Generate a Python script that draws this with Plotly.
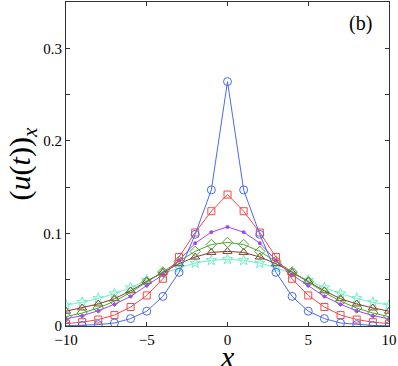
import plotly.graph_objects as go

x_vals = list(range(-10, 11))

# half profiles for x = 0..10 (curves are symmetric about x = 0)
blue_half = [0.264, 0.147, 0.099, 0.058, 0.032, 0.016, 0.008, 0.0032, 0.0015, 0.0006, 0.0003]
red_half = [0.142, 0.124, 0.101, 0.0745, 0.051, 0.033, 0.0205, 0.0118, 0.007, 0.0041, 0.0026]
purple_half = [0.107, 0.1014, 0.0895, 0.071, 0.0554, 0.0436, 0.032, 0.0235, 0.0165, 0.0112, 0.0078]
green_half = [0.0903, 0.088, 0.0806, 0.0698, 0.0583, 0.0477, 0.0362, 0.0268, 0.0194, 0.014, 0.0101]
brown_half = [0.0806, 0.0795, 0.0745, 0.0673, 0.058, 0.0483, 0.038, 0.0295, 0.0238, 0.0195, 0.016]
cyan_half = [0.072, 0.0709, 0.068, 0.063, 0.0565, 0.0495, 0.0414, 0.035, 0.0298, 0.0255, 0.0226]


def mirror(half):
    return half[:0:-1] + half


series = [
    ("blue", mirror(blue_half), "#4a6cf0", "circle-open", 8),
    ("red", mirror(red_half), "#f54848", "square-open", 7),
    ("purple", mirror(purple_half), "#a046f5", "circle", 3),
    ("green", mirror(green_half), "#48a82c", "diamond-open", 8),
    ("brown", mirror(brown_half), "#8c3c30", "triangle-up-open", 8),
    ("cyan", mirror(cyan_half), "#6cf0c8", "star-open", 8),
]

fig = go.Figure()
for name, ys, color, symbol, size in reversed(series):
    fig.add_trace(
        go.Scatter(
            x=x_vals,
            y=ys,
            mode="lines+markers",
            name=name,
            line=dict(color=color, width=1),
            marker=dict(symbol=symbol, size=size, color=color, line=dict(color=color, width=1)),
            showlegend=False,
        )
    )

font_serif = "Liberation Serif"
axis_common = dict(
    showgrid=False,
    zeroline=False,
    showline=True,
    linecolor="#333333",
    linewidth=1,
    mirror="ticks",
    ticks="inside",
    ticklen=4,
    tickcolor="#333333",
    ticklabeloverflow="allow",
    tickfont=dict(family=font_serif, size=15, color="black"),
)

fig.update_xaxes(
    range=[-10, 10],
    tickvals=[-10, -5, 0, 5, 10],
    **axis_common,
)
fig.update_yaxes(
    range=[0, 0.35],
    tickvals=[0, 0.1, 0.2, 0.3],
    ticktext=["0", "0.1", "0.2", "0.3"],
    minor=dict(ticks="inside", tickvals=[0.05, 0.15, 0.25], ticklen=4, tickcolor="#333333"),
    **axis_common,
)

fig.add_annotation(
    text="<i>x</i>", xref="paper", yref="paper", x=0.5, y=-0.093,
    xanchor="center", yanchor="middle", showarrow=False,
    font=dict(family=font_serif, size=30, color="black"),
)
fig.add_annotation(
    text="(<i>u</i>(<i>t</i>))<sub><i>x</i></sub>", xref="paper", yref="paper",
    x=-0.135, y=0.5, xanchor="center", yanchor="middle", textangle=-90,
    showarrow=False, font=dict(family=font_serif, size=30, color="black"),
)
fig.add_annotation(
    text="(b)", xref="paper", yref="paper", x=0.955, y=0.975,
    xanchor="right", yanchor="top", showarrow=False,
    font=dict(family=font_serif, size=20, color="black"),
)

fig.update_layout(
    width=398,
    height=366,
    margin=dict(l=66, r=7, t=1, b=40),
    paper_bgcolor="white",
    plot_bgcolor="white",
    font=dict(family=font_serif, color="black"),
)

fig.write_html(
    "out.html",
    config={"displayModeBar": False},
    post_script="document.body.style.margin='0';",
)
